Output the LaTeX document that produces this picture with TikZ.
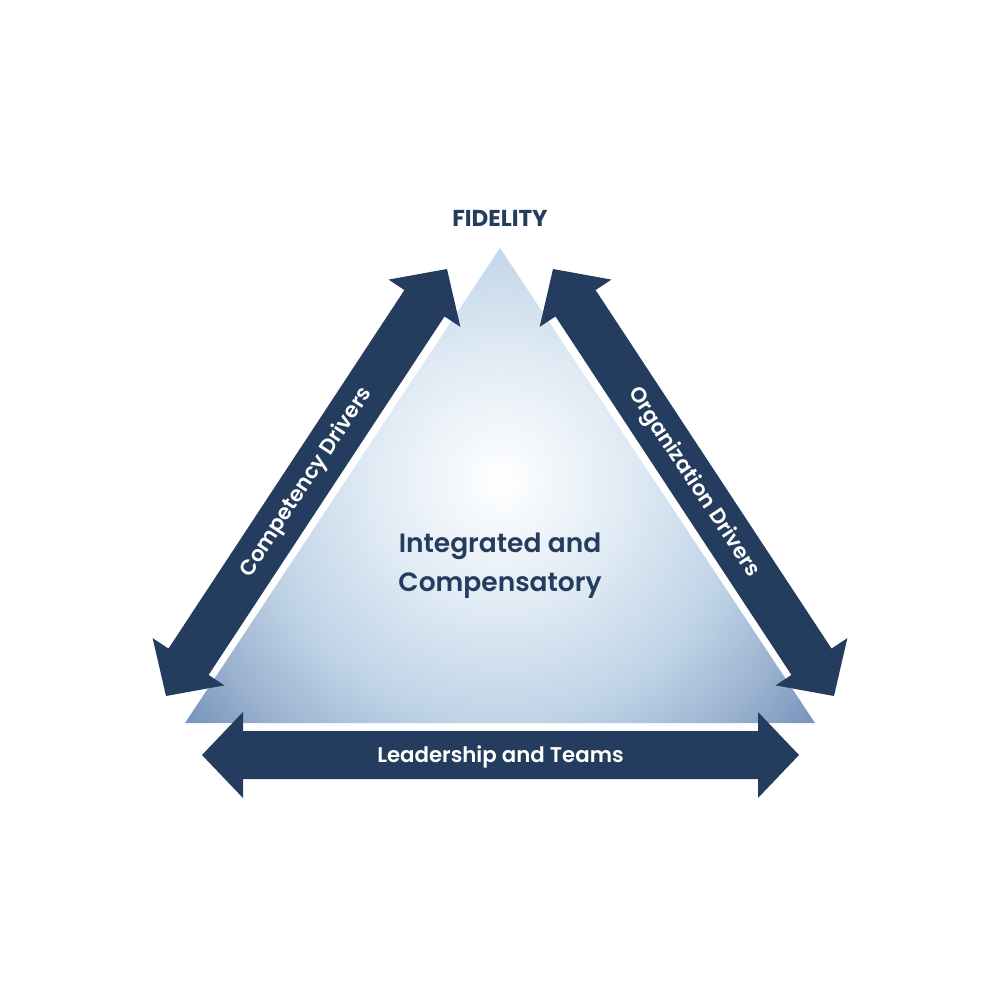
\documentclass[tikz,border=0pt]{standalone}
\usepackage{fontspec}
\setmainfont{Poppins}
\newfontfamily\medfont{Poppins SemiBold}
\usetikzlibrary{calc}
\definecolor{navy}{RGB}{36,60,94}
\definecolor{gA}{RGB}{226,236,245}
\definecolor{gB}{RGB}{192,212,231}
\definecolor{gC}{RGB}{155,178,208}
\definecolor{gD}{RGB}{118,146,186}
\pgfdeclareradialshading{trishade}{\pgfpoint{0bp}{0bp}}{color(0bp)=(white); color(7.5bp)=(gA); color(15bp)=(gB); color(20.5bp)=(gC); color(25bp)=(gD); color(50bp)=(gD)}
\newcommand\blockarrow[2]{%
  \coordinate (p1) at ($(#1)!41pt!(#2)$);
  \coordinate (p2) at ($(#2)!41pt!(#1)$);
  \fill[navy] (#1) -- ($(p1)!43pt!90:(#2)$) -- ($(p1)!24pt!90:(#2)$)
    -- ($(p2)!24pt!-90:(#1)$) -- ($(p2)!43pt!-90:(#1)$) -- (#2)
    -- ($(p2)!43pt!90:(#1)$) -- ($(p2)!24pt!90:(#1)$)
    -- ($(p1)!24pt!-90:(#2)$) -- ($(p1)!43pt!-90:(#2)$) -- cycle;}
\tikzset{
  arrowlabel/.style={text=white, font=\medfont\fontsize{21.3}{24}\selectfont, inner sep=0pt},
  midlabel/.style={text=navy, font=\medfont\fontsize{26.5}{39}\selectfont, align=center, inner sep=0pt},
  toplabel/.style={text=navy, font=\bfseries\fontsize{23}{26}\selectfont, inner sep=0pt}
}
\begin{document}
\begin{tikzpicture}[x=1pt,y=-1pt]
\useasboundingbox[fill=white] (0,0) rectangle (1000,1000);
% triangle
\coordinate (T) at (500,248);
\coordinate (TL) at (185,723);
\coordinate (TR) at (815,723);
\begin{scope}
  \clip (T) -- (TL) -- (TR) -- cycle;
  \shade[shading=trishade] (500,480) circle (400);
\end{scope}
% arrow end points
\coordinate (L1) at (166,696);
\coordinate (L2) at (447,269);
\coordinate (R1) at (553,269);
\coordinate (R2) at (834,696);
\coordinate (B1) at (202,755);
\coordinate (B2) at (799,755);
\blockarrow{L1}{L2}
\blockarrow{R1}{R2}
\blockarrow{B1}{B2}
% labels
\node[arrowlabel, rotate=56.65] (lc) at ($(L1)!0.5!(L2)$) {Competency Drivers};
\node[arrowlabel, rotate=-56.65] (lo) at ($(R1)!0.5!(R2)$) {Organization Drivers};
\node[arrowlabel] (lb) at ($(B1)!0.5!(B2)+(0,2)$) {Leadership and Teams};
\node[toplabel] (fid) at (500,218) {FIDELITY};
\node[midlabel] (mid) at (500,566) {Integrated and\\Compensatory};
\end{tikzpicture}
\end{document}
